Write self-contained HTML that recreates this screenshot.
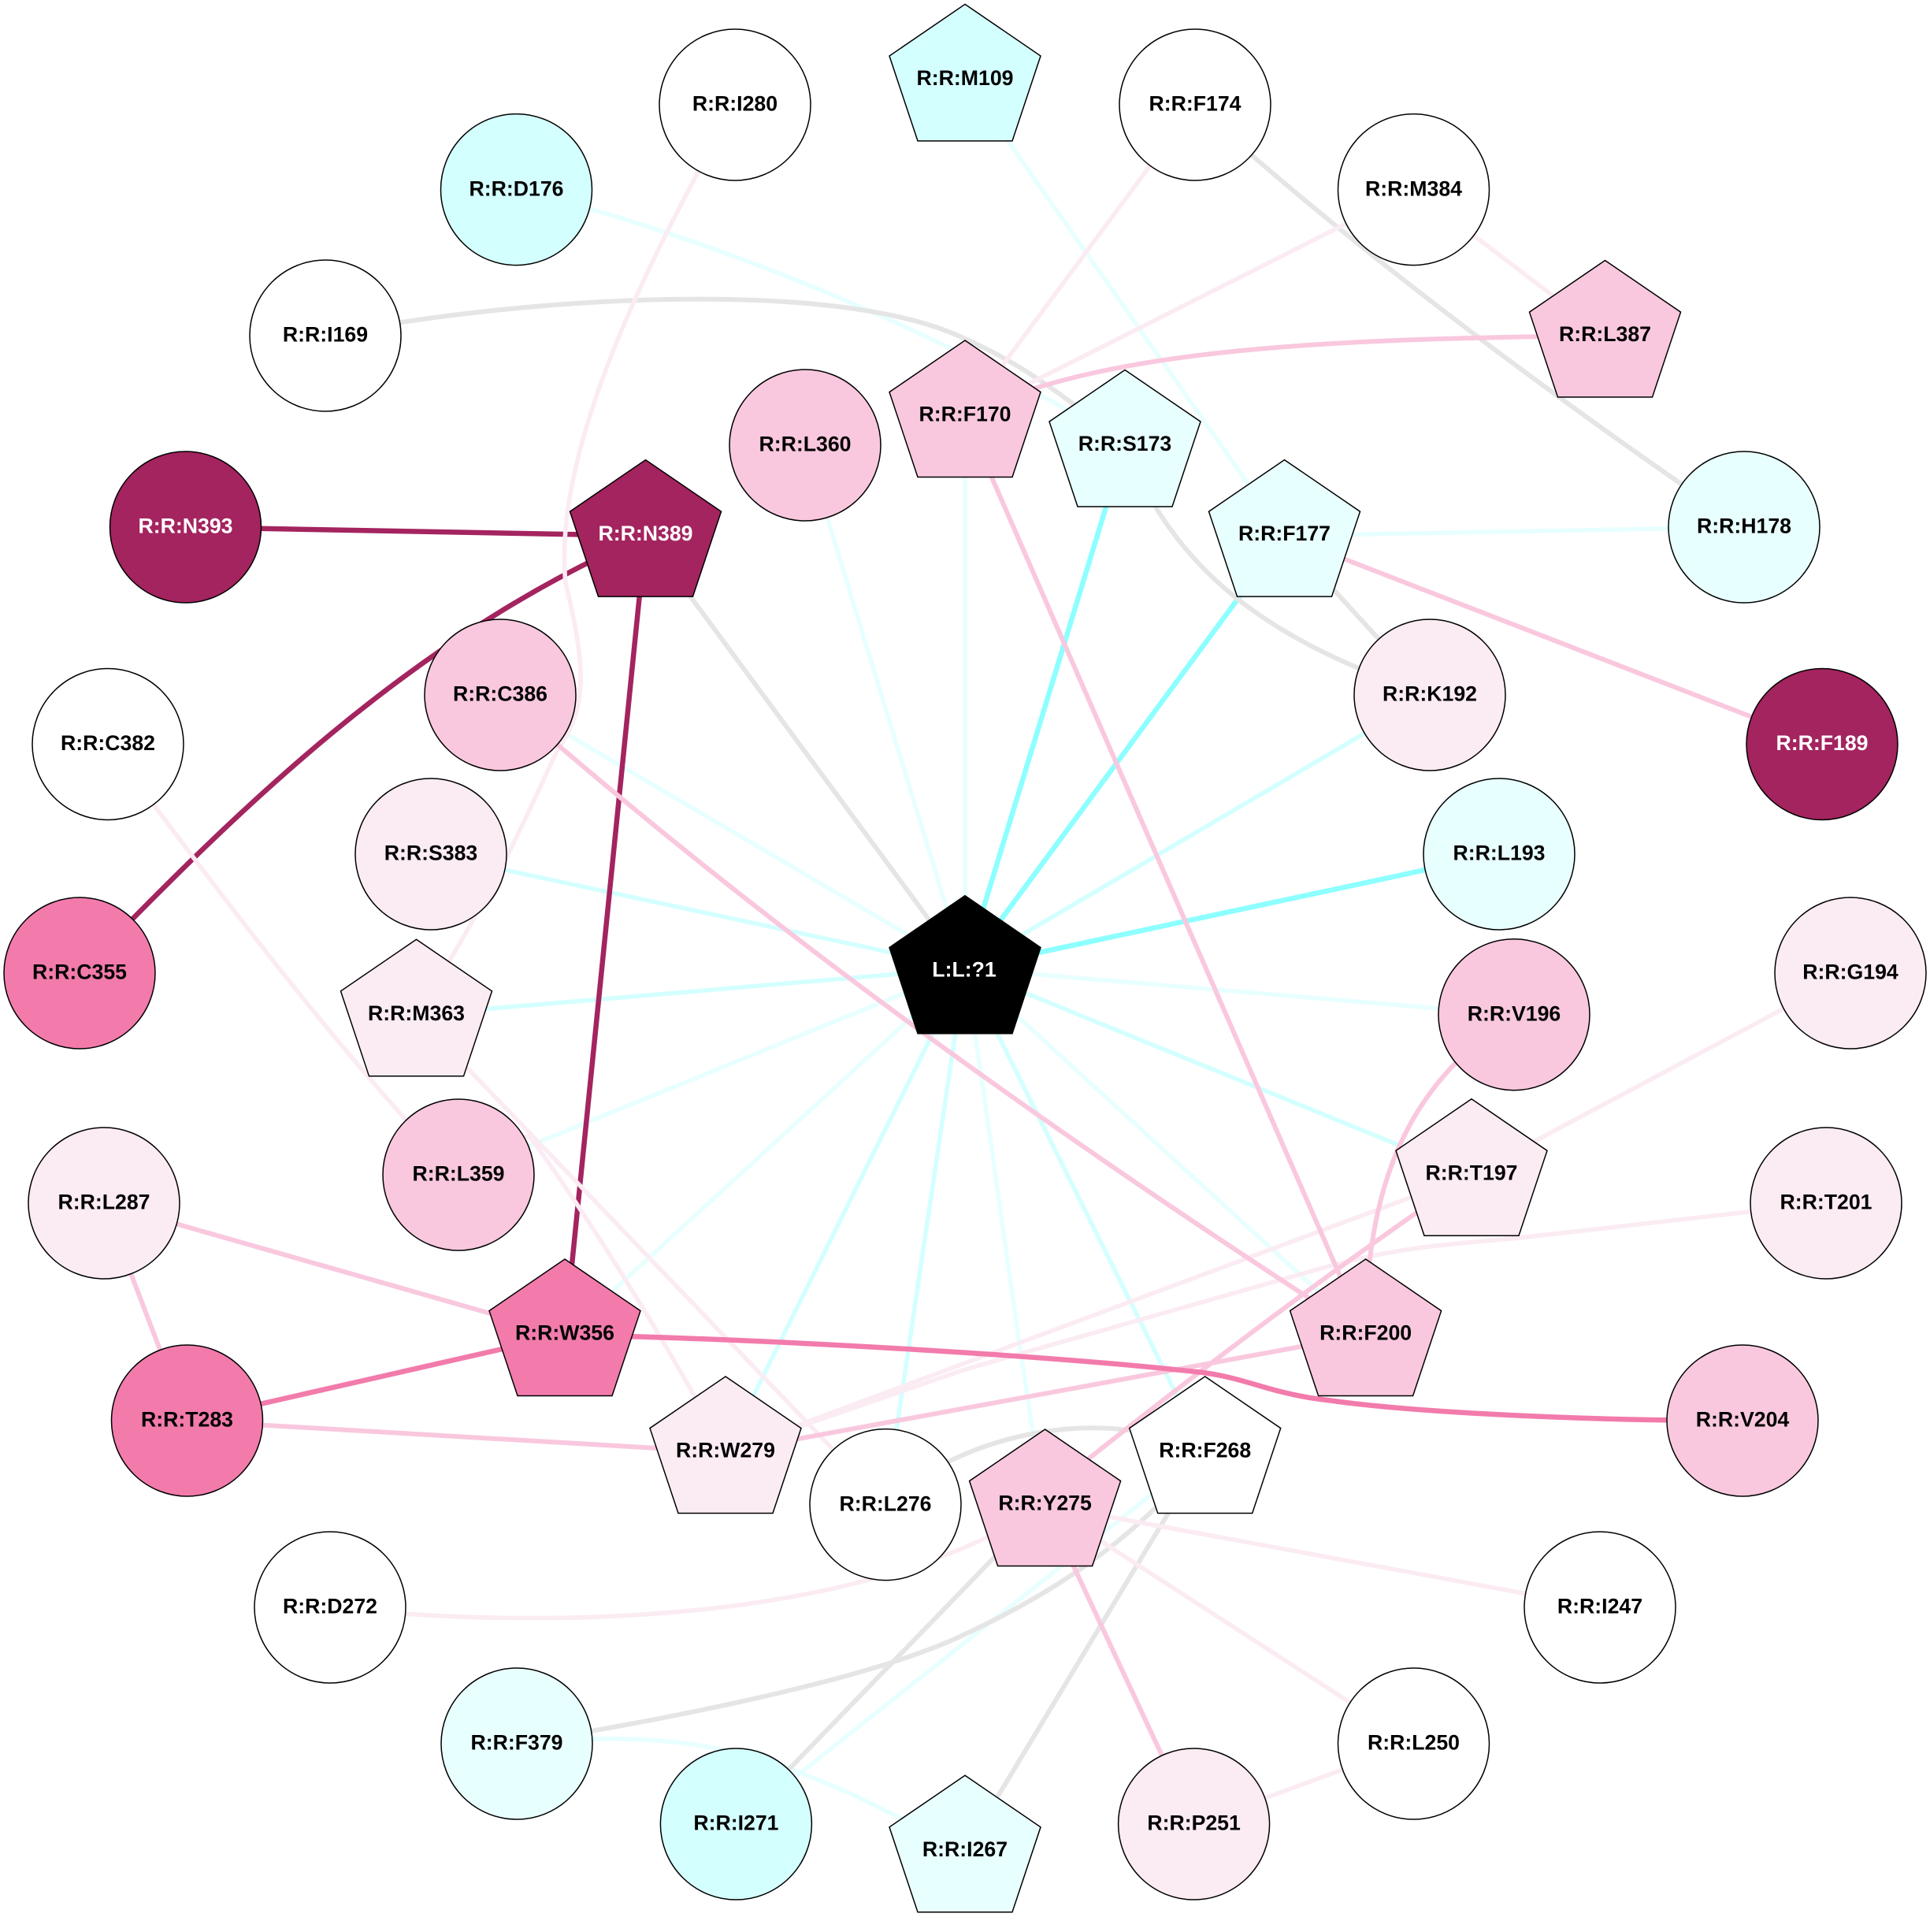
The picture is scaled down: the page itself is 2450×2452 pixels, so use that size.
<!DOCTYPE html>
<html><head><meta charset="utf-8"><style>
html,body{margin:0;padding:0;background:#fff}
svg{display:block}
text{font-family:"Liberation Sans",Arial,sans-serif;font-weight:bold;font-size:26.67px;text-anchor:middle;fill:#000}
text.w{fill:#fff}
.e{fill:none;stroke-linecap:butt}
.c1{stroke:#E8FFFF;stroke-width:5.6}
.c2{stroke:#D4FFFF;stroke-width:5.6}
.c3{stroke:#8DFFFF;stroke-width:6.5}
.g{stroke:#E5E5E5;stroke-width:6}
.p1{stroke:#FBEBF3;stroke-width:5.6}
.p2{stroke:#F9C8DE;stroke-width:6}
.p3{stroke:#F27BAC;stroke-width:6.5}
.d{stroke:#A3245F;stroke-width:6.5}
circle,polygon{stroke:#000;stroke-width:1.5}
</style></head><body>
<svg xmlns="http://www.w3.org/2000/svg" width="2450" height="2452" viewBox="0 0 2450 2452">
<rect width="2450" height="2452" fill="#fff"/>
<!-- cyan spokes -->
<g class="e c1">
<path d="M1225,1229L1225,528"/>
<path d="M1225,1229L1022,565"/>
<path d="M1225,1229L635,882"/>
<path d="M1225,1229L582,1491"/>
<path d="M1225,1229L717,1694"/>
<path d="M1225,1229L1922,1288"/>
<path d="M1225,1229L1733.6,1694"/>
<path d="M1225,1229C1260,1450 1290,1700 1326.6,1910"/>
<path d="M1225,101L1630.5,680"/>
<path d="M1630.5,680L2214,669"/>
<path d="M655,240C900,300 1200,420 1428,565"/>
<path d="M934,2315L1529.7,1843"/>
<path d="M656,2213C900,2190 1000,2230 1225,2350"/>
</g>
<g class="e c2">
<path d="M1225,1229L1815,882"/>
<path d="M1225,1229L1868,1491"/>
<path d="M1225,1229L1529.7,1843"/>
<path d="M1225,1229L1124,1909"/>
<path d="M1225,1229L921,1843"/>
<path d="M1225,1229L528.5,1288"/>
<path d="M1225,1229L547,1084"/>
</g>
<g class="e c3">
<path d="M1225,1229L1428,565"/>
<path d="M1225,1229L1630.5,680"/>
<path d="M1225,1229L1903,1084"/>
</g>
<!-- gray -->
<g class="e g">
<path d="M819.5,680L1225,1229"/>
<path d="M413,426C650,378 1060,350 1225,430C1275,452 1330,483 1428,565"/>
<path d="M1428,565C1490,720 1600,810 1815,882"/>
<path d="M1630.5,680L1815,882"/>
<path d="M1517,133C1700,300 1950,490 2214,669"/>
<path d="M1124,1909C1220,1820 1400,1780 1530,1843"/>
<path d="M656,2213C860,2180 1110,2130 1225,2074C1320,2030 1440,1960 1530,1843"/>
<path d="M1529.7,1843L1225,2349"/>
<path d="M934,2315L1326.6,1910"/>
</g>
<!-- dark -->
<g class="e d">
<path d="M235,669L819.5,680"/>
<path d="M819.5,680L717,1694"/>
<path d="M101,1235C300,1030 520,810 819.5,680"/>
</g>
<!-- pale pink -->
<g class="e p1">
<path d="M933,133C840,300 700,560 718,740C745,850 745,900 707,953C680,1010 630,1130 528,1288"/>
<path d="M137,944C250,1095 380,1270 515,1421L590,1440L673,1443C700,1480 800,1620 921,1843"/>
<path d="M528.5,1288L1124,1909"/>
<path d="M1225,528L1517,133"/>
<path d="M1225,528L1794.5,240.6"/>
<path d="M1794.5,240.6L2037.5,426"/>
<path d="M1868,1491L921,1843"/>
<path d="M2318,1527L1928,1571C1860,1578 1790,1580 1694,1605L1225,1738L921,1843"/>
<path d="M2349,1235L1868,1491"/>
<path d="M419,2040C700,2070 1100,2060 1326,1910"/>
<path d="M1326.6,1910L2031,2040"/>
<path d="M1326.6,1910L1794.5,2213"/>
<path d="M1515.6,2315L1794.5,2213"/>
</g>
<!-- pink -->
<g class="e p2">
<path d="M1225,528C1400,440 1700,430 2037,426"/>
<path d="M1225,528L1733.6,1694"/>
<path d="M1630.5,680L2313,944.5"/>
<path d="M635,882C900,1115 1230,1370 1733.6,1694"/>
<path d="M132,1527L717,1694"/>
<path d="M132,1527L237.5,1803"/>
<path d="M237.5,1803L921,1843"/>
<path d="M1733.6,1694L921,1843"/>
<path d="M1922,1288C1800,1370 1735,1480 1733,1694"/>
<path d="M1868,1491C1700,1605 1500,1755 1326.6,1896"/>
<path d="M1326.6,1910L1515.6,2315"/>
</g>
<!-- hot pink -->
<g class="e p3">
<path d="M237.5,1803L717,1694"/>
<path d="M717,1694C1000,1700 1350,1722 1527,1742C1565,1747 1590,1757 1625,1766C1660,1775 1680,1776 1700,1779C1800,1792 2000,1803 2212,1803"/>
</g>
<!-- circles -->
<circle cx="933" cy="133" r="96" fill="#fff"/><text x="933" y="140.700">R:R:I280</text>
<circle cx="655.500" cy="240.600" r="96" fill="#D4FFFF"/><text x="655.500" y="248.300">R:R:D176</text>
<circle cx="413" cy="426" r="96" fill="#fff"/><text x="413" y="433.700">R:R:I169</text>
<circle cx="235.500" cy="669" r="96" fill="#A3245F"/><text class="w" x="235.500" y="676.700">R:R:N393</text>
<circle cx="1022" cy="565" r="96" fill="#F9C8DE"/><text x="1022" y="572.700">R:R:L360</text>
<circle cx="635" cy="882" r="96" fill="#F9C8DE"/><text x="635" y="889.700">R:R:C386</text>
<circle cx="137" cy="944.500" r="96" fill="#fff"/><text x="137" y="952.200">R:R:C382</text>
<circle cx="547" cy="1084" r="96" fill="#FBEBF3"/><text x="547" y="1091.700">R:R:S383</text>
<circle cx="101" cy="1235" r="96" fill="#F27BAC"/><text x="101" y="1242.700">R:R:C355</text>
<circle cx="1517" cy="133" r="96" fill="#fff"/><text x="1517" y="140.700">R:R:F174</text>
<circle cx="1794.500" cy="240.600" r="96" fill="#fff"/><text x="1794.500" y="248.300">R:R:M384</text>
<circle cx="2214" cy="669" r="96" fill="#E8FFFF"/><text x="2214" y="676.700">R:R:H178</text>
<circle cx="1815" cy="882" r="96" fill="#FBEBF3"/><text x="1815" y="889.700">R:R:K192</text>
<circle cx="2313" cy="944.500" r="96" fill="#A3245F"/><text class="w" x="2313" y="952.200">R:R:F189</text>
<circle cx="1903" cy="1084" r="96" fill="#E8FFFF"/><text x="1903" y="1091.700">R:R:L193</text>
<circle cx="1922" cy="1287.700" r="96" fill="#F9C8DE"/><text x="1922" y="1295.400">R:R:V196</text>
<circle cx="2349" cy="1235" r="96" fill="#FBEBF3"/><text x="2349" y="1242.700">R:R:G194</text>
<circle cx="2318" cy="1527" r="96" fill="#FBEBF3"/><text x="2318" y="1534.700">R:R:T201</text>
<circle cx="2212" cy="1803" r="96" fill="#F9C8DE"/><text x="2212" y="1810.700">R:R:V204</text>
<circle cx="2031" cy="2040" r="96" fill="#fff"/><text x="2031" y="2047.700">R:R:I247</text>
<circle cx="1794.500" cy="2213" r="96" fill="#fff"/><text x="1794.500" y="2220.700">R:R:L250</text>
<circle cx="1515.600" cy="2315" r="96" fill="#FBEBF3"/><text x="1515.600" y="2322.700">R:R:P251</text>
<circle cx="132" cy="1527" r="96" fill="#FBEBF3"/><text x="132" y="1534.700">R:R:L287</text>
<circle cx="582" cy="1491" r="96" fill="#F9C8DE"/><text x="582" y="1498.700">R:R:L359</text>
<circle cx="237.500" cy="1803" r="96" fill="#F27BAC"/><text x="237.500" y="1810.700">R:R:T283</text>
<circle cx="1124" cy="1909.600" r="96" fill="#fff"/><text x="1124" y="1917.300">R:R:L276</text>
<circle cx="419" cy="2040" r="96" fill="#fff"/><text x="419" y="2047.700">R:R:D272</text>
<circle cx="656" cy="2213" r="96" fill="#E8FFFF"/><text x="656" y="2220.700">R:R:F379</text>
<circle cx="934.400" cy="2315" r="96" fill="#D4FFFF"/><text x="934.400" y="2322.700">R:R:I271</text>
<!-- pentagons -->
<polygon points="1225,5.400 1321,71 1285,178.900 1165,178.900 1129,71" fill="#D4FFFF"/><text x="1225" y="108">R:R:M109</text>
<polygon points="1225,432 1321,497.600 1285,605.500 1165,605.500 1129,497.600" fill="#F9C8DE"/><text x="1225" y="534.600">R:R:F170</text>
<polygon points="1428,469.500 1524,535.100 1488,643 1368,643 1332,535.100" fill="#E8FFFF"/><text x="1428" y="572.100">R:R:S173</text>
<polygon points="1630.500,583.600 1726.500,649.200 1690.500,757.100 1570.500,757.100 1534.500,649.200" fill="#E8FFFF"/><text x="1630.500" y="686.200">R:R:F177</text>
<polygon points="2037.500,330.500 2133.500,396.100 2097.500,504 1977.500,504 1941.500,396.100" fill="#F9C8DE"/><text x="2037.500" y="433.100">R:R:L387</text>
<polygon points="819.500,583.600 915.500,649.200 879.500,757.100 759.500,757.100 723.500,649.200" fill="#A3245F"/><text class="w" x="819.500" y="686.200">R:R:N389</text>
<polygon points="528.500,1192.300 624.500,1257.900 588.500,1365.800 468.500,1365.800 432.500,1257.900" fill="#FBEBF3"/><text x="528.500" y="1294.900">R:R:M363</text>
<polygon points="717,1598 813,1663.600 777,1771.500 657,1771.500 621,1663.600" fill="#F27BAC"/><text x="717" y="1700.600">R:R:W356</text>
<polygon points="921,1747 1017,1812.600 981,1920.500 861,1920.500 825,1812.600" fill="#FBEBF3"/><text x="921" y="1849.600">R:R:W279</text>
<polygon points="1868,1394.750 1964,1460.350 1928,1568.250 1808,1568.250 1772,1460.350" fill="#FBEBF3"/><text x="1868" y="1497.350">R:R:T197</text>
<polygon points="1733.600,1598 1829.600,1663.600 1793.600,1771.500 1673.600,1771.500 1637.600,1663.600" fill="#F9C8DE"/><text x="1733.600" y="1700.600">R:R:F200</text>
<polygon points="1529.700,1747 1625.700,1812.600 1589.700,1920.500 1469.700,1920.500 1433.700,1812.600" fill="#fff"/><text x="1529.700" y="1849.600">R:R:F268</text>
<polygon points="1326.600,1814 1422.600,1879.600 1386.600,1987.500 1266.600,1987.500 1230.600,1879.600" fill="#F9C8DE"/><text x="1326.600" y="1916.600">R:R:Y275</text>
<polygon points="1225,2253.300 1321,2318.900 1285,2426.800 1165,2426.800 1129,2318.900" fill="#E8FFFF"/><text x="1225" y="2355.900">R:R:I267</text>
<polygon points="1225,1136.700 1321,1202.500 1285,1311.700 1165,1311.700 1129,1202.500" fill="#000"/><text class="w" x="1224" y="1239.500">L:L:?1</text>
</svg>
</body></html>
